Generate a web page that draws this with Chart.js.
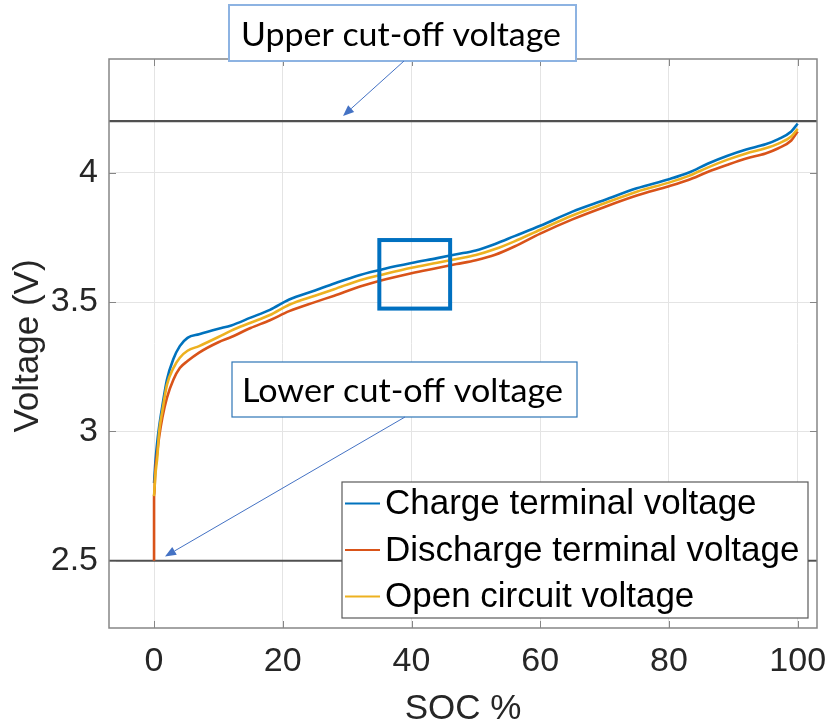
<!DOCTYPE html>
<html><head><meta charset="utf-8">
<script src="https://cdn.jsdelivr.net/npm/chart.js@4.4.1/dist/chart.umd.min.js"></script>
<style>html,body{margin:0;padding:0;background:#fff;}canvas{display:block;}</style>
</head><body>
<canvas id="c" width="830" height="724"></canvas>
<script>
// ---------- data ----------
const socValues        = [0, 0, 0.2, 0.5, 0.8, 1.3, 2, 3, 4, 5.2, 7, 10, 12, 15, 18, 21, 25, 28, 32, 36, 40, 44, 47, 50, 53, 56, 60, 65, 70, 75, 80, 83, 86, 89, 92, 95, 97, 99, 100];
const chargeVoltage    = [null, 2.80, 2.88, 2.96, 3.02, 3.10, 3.20, 3.28, 3.33, 3.362, 3.376, 3.397, 3.41, 3.44, 3.47, 3.51, 3.545, 3.572, 3.605, 3.63, 3.651, 3.67, 3.685, 3.70, 3.725, 3.755, 3.795, 3.85, 3.895, 3.94, 3.975, 4.00, 4.035, 4.065, 4.09, 4.11, 4.13, 4.16, 4.19];
const dischargeVoltage = [2.50, 2.75, 2.85, 2.92, 2.98, 3.055, 3.13, 3.20, 3.245, 3.272, 3.305, 3.345, 3.365, 3.40, 3.43, 3.465, 3.50, 3.525, 3.56, 3.588, 3.612, 3.632, 3.647, 3.662, 3.683, 3.715, 3.765, 3.82, 3.868, 3.912, 3.948, 3.972, 4.003, 4.03, 4.055, 4.075, 4.095, 4.125, 4.16];
const ocvVoltage       = [null, 2.75, 2.83, 2.90, 3.00, 3.08, 3.18, 3.245, 3.285, 3.312, 3.33, 3.365, 3.39, 3.42, 3.45, 3.49, 3.525, 3.55, 3.585, 3.61, 3.633, 3.652, 3.667, 3.682, 3.705, 3.735, 3.78, 3.835, 3.882, 3.927, 3.962, 3.987, 4.02, 4.05, 4.075, 4.095, 4.113, 4.14, 4.17];
const xTickValues = [0, 20, 40, 60, 80, 100];
const yTickValues = [2.5, 3, 3.5, 4];
const yTickLabels = ['2.5', '3', '3.5', '4'];
const cutoffUpper = 4.2;
const cutoffLower = 2.5;
const seriesNames = ['Charge terminal voltage', 'Discharge terminal voltage', 'Open circuit voltage'];
const xTitle = 'SOC %';
const yTitle = 'Voltage (V)';
const upperNote = 'Upper cut-off voltage';
const lowerNote = 'Lower cut-off voltage';
const highlightSoc = [35, 46];
const highlightVolt = [3.475, 3.74];

// ---------- style / layout ----------
const X_MIN = -7, X_MAX = 103, Y_MIN = 2.24, Y_MAX = 4.44;
const COLORS = ['#0072BD', '#D95319', '#EDB120'];
const SANS = '"Liberation Sans", Arial, Helvetica, sans-serif';
const NOTE_FONT = 'Lato, "Open Sans", sans-serif';
const LAYOUT = {
  upperBox: {x1: 229, y1: 5, x2: 576, y2: 61, tx: 241, ty: 45.7, tw: 320, stroke: '#8DB3E2', lw: 2},
  lowerBox: {x1: 232, y1: 362, x2: 577, y2: 417, tx: 242, ty: 401.5, tw: 321, stroke: '#2E75B6', lw: 1.2},
  upperArrow: {x1: 404, y1: 61, x2: 343, y2: 116},
  lowerArrow: {x1: 405, y1: 417, x2: 165, y2: 556.5},
  legend: {x1: 342, y1: 482, x2: 808, y2: 618, lineX1: 345, lineX2: 380, textX: 385, rows: [503.5, 550, 596.5], font: 35}
};

const pts = vals => socValues.map((s, i) => ({x: s, y: vals[i]}));
const flat = v => [{x: X_MIN, y: v}, {x: X_MAX, y: v}];

function drawArrow(ctx, a) {
  ctx.save();
  ctx.strokeStyle = '#4472C4'; ctx.fillStyle = '#4472C4'; ctx.lineWidth = 1;
  const ang = Math.atan2(a.y2 - a.y1, a.x2 - a.x1);
  const L = 11, W = 4.5;
  const bx = a.x2 - L * Math.cos(ang), by = a.y2 - L * Math.sin(ang);
  ctx.beginPath(); ctx.moveTo(a.x1, a.y1); ctx.lineTo(bx, by); ctx.stroke();
  ctx.beginPath();
  ctx.moveTo(a.x2, a.y2);
  ctx.lineTo(bx + W * Math.sin(ang), by - W * Math.cos(ang));
  ctx.lineTo(bx - W * Math.sin(ang), by + W * Math.cos(ang));
  ctx.closePath(); ctx.fill();
  ctx.restore();
}
function drawNote(ctx, b, text) {
  ctx.save();
  ctx.fillStyle = '#fff';
  ctx.fillRect(b.x1, b.y1, b.x2 - b.x1, b.y2 - b.y1);
  ctx.strokeStyle = b.stroke; ctx.lineWidth = b.lw;
  ctx.strokeRect(b.x1, b.y1, b.x2 - b.x1, b.y2 - b.y1);
  ctx.font = '33px ' + NOTE_FONT;
  const w = ctx.measureText(text).width;
  ctx.translate(b.tx, b.ty);
  ctx.scale(b.tw / w, 1);
  ctx.fillStyle = '#000'; ctx.textBaseline = 'alphabetic'; ctx.textAlign = 'left';
  ctx.fillText(text, 0, 0);
  ctx.restore();
}

const overlay = {
  id: 'overlay',
  beforeDraw(chart) {
    const c = chart.ctx; c.save(); c.fillStyle = '#fff'; c.fillRect(0, 0, chart.width, chart.height); c.restore();
  },
  afterDraw(chart) {
    const {ctx, chartArea: a, scales: {x, y}} = chart;
    ctx.save();
    // highlight square
    ctx.strokeStyle = '#0070C0'; ctx.lineWidth = 4;
    const hx1 = x.getPixelForValue(highlightSoc[0]), hx2 = x.getPixelForValue(highlightSoc[1]);
    const hy1 = y.getPixelForValue(highlightVolt[1]), hy2 = y.getPixelForValue(highlightVolt[0]);
    ctx.strokeRect(hx1, hy1, hx2 - hx1, hy2 - hy1);
    // axes box
    ctx.strokeStyle = '#868686'; ctx.lineWidth = 1.5;
    ctx.strokeRect(a.left, a.top, a.right - a.left, a.bottom - a.top);
    // inward ticks
    ctx.beginPath();
    xTickValues.forEach(v => {
      const px = Math.round(x.getPixelForValue(v)) + 0.5;
      ctx.moveTo(px, a.bottom); ctx.lineTo(px, a.bottom - 7);
      ctx.moveTo(px, a.top); ctx.lineTo(px, a.top + 7);
    });
    yTickValues.forEach(v => {
      const py = Math.round(y.getPixelForValue(v)) + 0.5;
      ctx.moveTo(a.left, py); ctx.lineTo(a.left + 7, py);
      ctx.moveTo(a.right, py); ctx.lineTo(a.right - 7, py);
    });
    ctx.lineWidth = 1; ctx.stroke();
    // annotations
    drawNote(ctx, LAYOUT.upperBox, upperNote);
    drawNote(ctx, LAYOUT.lowerBox, lowerNote);
    drawArrow(ctx, LAYOUT.upperArrow);
    drawArrow(ctx, LAYOUT.lowerArrow);
    // legend
    const lg = LAYOUT.legend;
    ctx.fillStyle = '#fff';
    ctx.fillRect(lg.x1, lg.y1, lg.x2 - lg.x1, lg.y2 - lg.y1);
    ctx.strokeStyle = '#5a5a5a'; ctx.lineWidth = 1.2;
    ctx.strokeRect(lg.x1, lg.y1, lg.x2 - lg.x1, lg.y2 - lg.y1);
    ctx.font = lg.font + 'px ' + SANS; ctx.textBaseline = 'middle'; ctx.textAlign = 'left';
    seriesNames.forEach((name, i) => {
      const ry = lg.rows[i];
      ctx.strokeStyle = COLORS[i]; ctx.lineWidth = 2;
      ctx.beginPath(); ctx.moveTo(lg.lineX1, ry); ctx.lineTo(lg.lineX2, ry); ctx.stroke();
      ctx.fillStyle = '#000';
      ctx.fillText(name, lg.textX, ry + 1);
    });
    // axis titles
    ctx.fillStyle = '#262626'; ctx.font = '35px ' + SANS;
    ctx.textAlign = 'center'; ctx.textBaseline = 'alphabetic';
    ctx.fillText(xTitle, (a.left + a.right) / 2, 719);
    ctx.translate(38, 346); ctx.rotate(-Math.PI / 2);
    ctx.fillText(yTitle, 0, 0);
    ctx.restore();
  }
};

new Chart(document.getElementById('c'), {
  type: 'line',
  data: {
    datasets: [
      {label: 'upper', data: flat(cutoffUpper), borderColor: '#505050', borderWidth: 2.2, pointRadius: 0, order: 5},
      {label: 'lower', data: flat(cutoffLower), borderColor: '#505050', borderWidth: 2.2, pointRadius: 0, order: 5},
      {label: seriesNames[0], data: pts(chargeVoltage), borderColor: COLORS[0], borderWidth: 2.6, pointRadius: 0, cubicInterpolationMode: 'monotone', order: 3},
      {label: seriesNames[1], data: pts(dischargeVoltage), borderColor: COLORS[1], borderWidth: 2.6, pointRadius: 0, cubicInterpolationMode: 'monotone', order: 2},
      {label: seriesNames[2], data: pts(ocvVoltage), borderColor: COLORS[2], borderWidth: 2.6, pointRadius: 0, cubicInterpolationMode: 'monotone', order: 1}
    ]
  },
  options: {
    responsive: false, animation: false, parsing: false, spanGaps: false,
    layout: {padding: {top: 59, right: 13, left: 0, bottom: 0}},
    plugins: {legend: {display: false}, tooltip: {enabled: false}},
    scales: {
      x: {
        type: 'linear', min: X_MIN, max: X_MAX,
        afterBuildTicks: s => { s.ticks = xTickValues.map(v => ({value: v})); },
        afterFit: s => { s.height = 96; s.paddingLeft = 0; s.paddingRight = 0; },
        ticks: {font: {family: SANS, size: 34}, color: '#262626', padding: 13, maxRotation: 0, callback: v => String(v)},
        grid: {color: '#e4e4e4', lineWidth: 1, drawTicks: false},
        border: {display: false}
      },
      y: {
        type: 'linear', min: Y_MIN, max: Y_MAX,
        afterBuildTicks: s => { s.ticks = yTickValues.map(v => ({value: v})); },
        afterFit: s => { s.width = 109; s.paddingTop = 0; s.paddingBottom = 0; },
        ticks: {font: {family: SANS, size: 34}, color: '#262626', padding: 11, callback: v => yTickLabels[yTickValues.indexOf(v)] ?? String(v)},
        grid: {color: '#e4e4e4', lineWidth: 1, drawTicks: false},
        border: {display: false}
      }
    }
  },
  plugins: [overlay]
});
</script>
</body></html>
